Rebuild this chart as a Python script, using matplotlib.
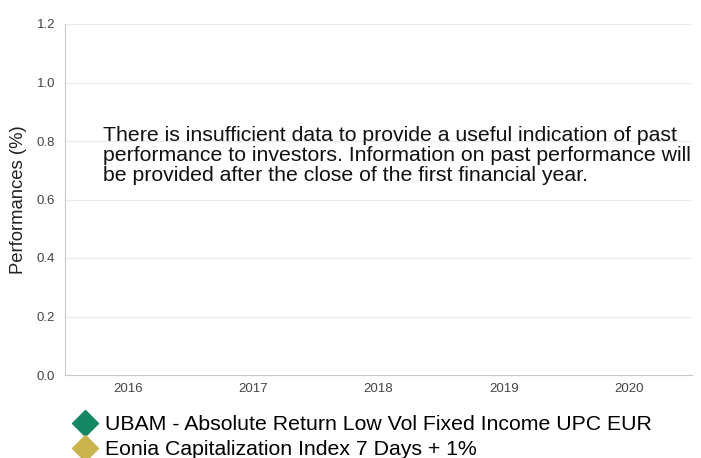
import matplotlib.pyplot as plt
import numpy as np

plt.rcParams['font.family'] = ['Liberation Sans', 'DejaVu Sans']

years = ['2016', '2017', '2018', '2019', '2020']
fund_name = 'UBAM - Absolute Return Low Vol Fixed Income UPC EUR'
bench_name = 'Eonia Capitalization Index 7 Days + 1%'
fund_values = [np.nan, np.nan, np.nan, np.nan, np.nan]
bench_values = [np.nan, np.nan, np.nan, np.nan, np.nan]
y_ticks = [0.0, 0.2, 0.4, 0.6, 0.8, 1.0, 1.2]
message = ('There is insufficient data to provide a useful indication of past\n'
           'performance to investors. Information on past performance will\n'
           'be provided after the close of the first financial year.')

fig = plt.figure(figsize=(7.01, 4.58), dpi=100)
ax = fig.add_axes([65 / 701, 1 - 375 / 458, (692 - 65) / 701, (375 - 24) / 458])

x = np.arange(len(years))
ax.plot(x, fund_values, linestyle='none', marker='D', markersize=13,
        color='#168763', label=fund_name)
ax.plot(x, bench_values, linestyle='none', marker='D', markersize=13,
        color='#c9b54c', label=bench_name)

ax.set_xlim(-0.5, len(years) - 0.5)
ax.set_ylim(0, 1.2)
ax.set_xticks(x)
ax.set_xticklabels(years)
ax.set_yticks(y_ticks)
ax.set_yticklabels([f'{v:.1f}' for v in y_ticks])
ax.tick_params(length=0, labelsize=9.5, colors='#444444', pad=7)
ax.tick_params(axis='x', pad=6)
ax.grid(axis='y', color='#ebebeb', linewidth=0.8)
ax.set_axisbelow(True)
for s in ['top', 'right']:
    ax.spines[s].set_visible(False)
for s in ['left', 'bottom']:
    ax.spines[s].set_color('#c8c8c8')
    ax.spines[s].set_linewidth(0.8)
ax.set_ylabel('Performances (%)', fontsize=13.3, color='#222222', labelpad=7)

fig.text(103 / 701, 1 - 126 / 458, message, fontsize=15.3,
         color='#111111', va='top', ha='left', linespacing=1.06)

fig.legend(loc='upper left', bbox_to_anchor=(74 / 701, 1 - 415 / 458),
           frameon=False, fontsize=15.3, handletextpad=0.45,
           labelspacing=0.28, borderaxespad=0, borderpad=0, handlelength=1.0)

fig.savefig('out.png', dpi=100)
